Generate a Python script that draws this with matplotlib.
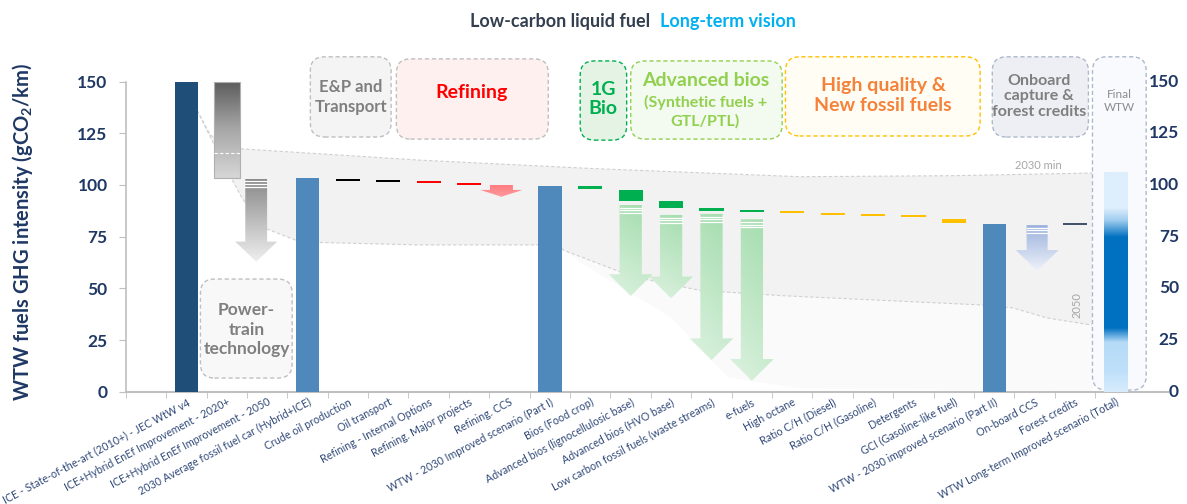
import numpy as np
import matplotlib
matplotlib.use("Agg")
import matplotlib.pyplot as plt
import matplotlib.transforms as mtransforms
from matplotlib.patches import Rectangle, Polygon, FancyBboxPatch
from matplotlib.colors import LinearSegmentedColormap

plt.rcParams["font.family"] = ["Lato", "DejaVu Sans"]
plt.rcParams["mathtext.fontset"] = "custom"
plt.rcParams["mathtext.rm"] = "Lato:bold"
plt.rcParams["mathtext.it"] = "Lato:bold"
plt.rcParams["mathtext.bf"] = "Lato:bold"

# --- data -------------------------------------------------------------
categories = [
    "ICE - State-of-the-art (2010+) - JEC WtW v4",
    "ICE+Hybrid EnEf Improvement - 2020+",
    "ICE+Hybrid EnEf Improvement - 2050",
    "2030 Average fossil fuel car (Hybrid+ICE)",
    "Crude oil production",
    "Oil transport",
    "Refining - Internal Options",
    "Refining. Major projects",
    "Refining. CCS",
    "WTW - 2030 Improved scenario (Part I)",
    "Bios (Food crop)",
    "Advanced bios (lignocellulosic base)",
    "Advanced bios (HVO base)",
    "Low carbon fossil fuels (waste streams)",
    "e-fuels",
    "High octane",
    "Ratio C/H (Diesel)",
    "Ratio C/H (Gasoline)",
    "Detergents",
    "GCI (Gasoline-like fuel)",
    "WTW - 2030 improved scenario (Part II)",
    "On-board CCS",
    "Forest credits",
    "WTW Long-term Improved scenario (Total)",
]

# full bars from zero
total_idx = [0, 3, 9, 20]
total_val = [150.0, 103.2, 99.7, 81.3]
total_kind = ["base", "sub", "sub", "sub"]

# floating steps of the waterfall
step_idx = [4, 5, 6, 7, 10, 11, 12, 13, 14, 15, 16, 17, 18, 19, 22]
step_top = [103.1, 102.3, 101.8, 100.8, 99.7, 97.6, 92.3, 88.7, 87.9, 87.4, 86.3, 86.2, 85.5, 83.4, 81.5]
step_bottom = [102.1, 101.5, 100.8, 100.0, 97.9, 92.3, 88.7, 87.6, 87.0, 86.4, 85.3, 84.8, 84.7, 81.4, 80.8]
step_kind = ["oil", "oil", "refining", "refining", "bio", "bio", "bio", "bio", "bio",
             "quality", "quality", "quality", "quality", "quality", "credits"]

# long-term reduction arrows
arrow_idx = [2, 8, 11, 12, 13, 14, 21]
arrow_top = [103.0, 100.0, 90.3, 85.5, 86.0, 83.4, 80.6]
arrow_tip = [62.9, 94.3, 46.3, 45.2, 15.3, 5.3, 58.5]
arrow_kind = ["power", "refining", "bio", "bio", "bio", "bio", "onboard"]

# 2020+ powertrain range box
hybrid_idx = 1
hybrid_top = 150.0
hybrid_bottom = 103.3
hybrid_mark = 115.3

# final long-term WTW range
final_idx = 23
final_val = 106.4

# 2030 min / 2050 envelope
band_upper_x = [0.27, 0.6, 1.34, 5.8, 10.0, 15.2, 19.0, 22.43]
band_upper_y = [136.0, 124.0, 117.5, 112.0, 108.0, 104.0, 104.5, 105.8]
band_lower_x = [0.27, 0.8, 1.34, 1.83, 2.82, 5.79, 9.26, 9.33, 11.06, 12.72, 14.7, 19.65, 20.47, 21.3, 22.43]
band_lower_y = [136.0, 115.0, 95.0, 80.0, 72.4, 71.0, 71.0, 68.5, 55.6, 49.0, 46.5, 42.0, 40.5, 35.7, 32.2]
shadow_x = [9.33, 9.8, 12.0, 13.4, 15.2, 22.43]
shadow_y = [68.5, 62.0, 36.0, 7.0, 1.5, 0.5]

y_ticks = [0, 25, 50, 75, 100, 125, 150]

# group boxes: (x0, x1, y0, y1)
groups = {
    "power": (0.35, 2.62, 6.6, 54.5),
    "ep": (3.07, 5.07, 123.2, 162.0),
    "refining": (5.2, 8.96, 122.2, 161.0),
    "1g": (9.75, 10.9, 121.7, 160.0),
    "adv": (11.0, 14.75, 122.2, 160.0),
    "quality": (14.83, 19.65, 123.7, 162.0),
    "onboard": (19.95, 22.33, 123.2, 162.0),
    "final": (22.43, 23.76, 0.8, 162.0),
}

# --- styles -----------------------------------------------------------
NAVY = "#1F3864"
BAR_COL = {"base": "#1F4E79", "sub": "#4F88BB"}
STEP_COL = {"oil": "#000000", "refining": "#FF0000", "bio": "#00B050",
            "quality": "#FFC000", "credits": "#44546A"}
ARROW_STYLE = {
    "power": dict(dx=-0.27, head=9.7, shaft=0.54, hw=1.04, c0="#8A8A8A", c1="#EFEFEF", stripes=True),
    "refining": dict(dx=-0.2, head=3.3, shaft=0.57, hw=1.04, c0="#FF7C80", c1="#FF9A9D", stripes=False),
    "bio": dict(dx=0.0, head=10.5, shaft=0.55, hw=1.08, c0="#A2DCAC", c1="#DDF2E0", stripes=True),
    "onboard": dict(dx=0.06, head=10.0, shaft=0.52, hw=1.06, c0="#9BB1DD", c1="#EEF2FA", stripes=True),
}
BOX_STYLE = {
    "power": dict(fc="#F8F8F8", ec="#BFBFBF"),
    "ep": dict(fc="#F4F4F4", ec="#BFBFBF"),
    "refining": dict(fc="#FFF0F0", ec="#BFBFBF"),
    "1g": dict(fc="#E4F3E4", ec="#00B050"),
    "adv": dict(fc="#F3FAEF", ec="#92D050"),
    "quality": dict(fc="#FFFDF4", ec="#FFC000"),
    "onboard": dict(fc="#EDEFF4", ec="#ADB9CA"),
    "final": dict(fc="#F8FAFD", ec="#ADB9CA"),
}

BAR_W = 0.58
X_MIN, X_MAX = -1.5, 24.3
Y_MIN, Y_MAX = 0, 165
ASPECT = (1042.3 / (X_MAX - X_MIN)) / (341.1 / (Y_MAX - Y_MIN))

fig = plt.figure(figsize=(11.87, 5.04), dpi=100)
ax = fig.add_axes([0.1059, 0.2228, 0.8781, 0.6768])


def gradient_patch(ax, verts, extent, arr, cmap, z):
    poly = Polygon(verts, closed=True, facecolor="none", edgecolor="none", zorder=z)
    ax.add_patch(poly)
    im = ax.imshow(arr, cmap=cmap, extent=extent, aspect="auto", origin="upper",
                   interpolation="bilinear", zorder=z, vmin=0, vmax=1)
    im.set_clip_path(poly)
    return im


def rbox(ax, x0, x1, y0, y1, fc, ec, z=1):
    p = FancyBboxPatch((x0, y0), x1 - x0, y1 - y0,
                       boxstyle="round,pad=0,rounding_size=0.35",
                       mutation_aspect=ASPECT, fc=fc, ec=ec, lw=1.0,
                       ls=(0, (3, 2)), zorder=z, clip_on=False)
    ax.add_patch(p)


# envelope band
band_poly = list(zip(band_upper_x, band_upper_y)) + list(zip(band_lower_x[::-1], band_lower_y[::-1]))
ax.add_patch(Polygon(band_poly, closed=True, fc="#F2F2F2", ec="none", zorder=0.5))
ax.plot(band_upper_x, band_upper_y, color="#D0D0D0", lw=0.8, ls=(0, (3, 2)), zorder=0.6)
ax.plot(band_lower_x, band_lower_y, color="#D0D0D0", lw=0.8, ls=(0, (3, 2)), zorder=0.6)
shadow_poly = list(zip(band_lower_x[7:], band_lower_y[7:])) + list(zip(shadow_x[::-1], shadow_y[::-1]))
ax.add_patch(Polygon(shadow_poly, closed=True, fc="#FAFAFA", ec="none", zorder=0.4))

# group boxes
for key, (x0, x1, y0, y1) in groups.items():
    rbox(ax, x0, x1, y0, y1, **BOX_STYLE[key])

# full bars
for i, v, k in zip(total_idx, total_val, total_kind):
    ax.add_patch(Rectangle((i - BAR_W / 2, 0), BAR_W, v, fc=BAR_COL[k], ec="none", zorder=3))

# steps
for i, t, b, k in zip(step_idx, step_top, step_bottom, step_kind):
    ax.add_patch(Rectangle((i - 0.3, b), 0.6, t - b, fc=STEP_COL[k], ec="none", zorder=3))

# 2020+ gradient box
gray = LinearSegmentedColormap.from_list("gray", ["#5C5C5C", "#A8A8A8", "#D6D6D6"])
hw = 0.64
verts = [(hybrid_idx - hw / 2, hybrid_bottom), (hybrid_idx + hw / 2, hybrid_bottom),
         (hybrid_idx + hw / 2, hybrid_top), (hybrid_idx - hw / 2, hybrid_top)]
gradient_patch(ax, verts, (hybrid_idx - hw / 2, hybrid_idx + hw / 2, hybrid_bottom, hybrid_top),
               np.linspace(0, 1, 200).reshape(-1, 1), gray, 3)
ax.add_patch(Rectangle((hybrid_idx - hw / 2, hybrid_bottom), hw, hybrid_top - hybrid_bottom,
                       fc="none", ec="#B0B0B0", lw=0.8, zorder=3.2))
ax.plot([hybrid_idx - hw / 2, hybrid_idx + hw / 2], [hybrid_mark, hybrid_mark],
        color="white", lw=0.8, ls=(0, (3, 2)), zorder=3.3)

# arrows
for i, top, tip, k in zip(arrow_idx, arrow_top, arrow_tip, arrow_kind):
    s = ARROW_STYLE[k]
    xc = i + s["dx"]
    sw, hwid = s["shaft"], s["hw"]
    neck = tip + s["head"]
    verts = [(xc - sw / 2, top), (xc + sw / 2, top), (xc + sw / 2, neck), (xc + hwid / 2, neck),
             (xc, tip), (xc - hwid / 2, neck), (xc - sw / 2, neck)]
    u = np.linspace(0, 1, 40)[None, :]
    v = np.linspace(0, 1, 200)[:, None]
    arr = np.clip(0.75 * v + 0.25 * (1 - u), 0, 1) if k == "bio" else np.repeat(v, 40, axis=1)
    cmap = LinearSegmentedColormap.from_list("a" + k, [s["c0"], s["c1"]])
    gradient_patch(ax, verts, (xc - hwid / 2, xc + hwid / 2, tip, top), arr, cmap, 3)
    if s["stripes"]:
        for d in (1.3, 2.6, 3.9):
            ax.plot([xc - sw / 2, xc + sw / 2], [top - d, top - d], color="white", lw=0.9, zorder=3.4)

# final long-term gradient bar
stops_v = [0, 10, 24, 31, 75, 83, 89, final_val]
stops_c = ["#D8ECFC", "#BFE0FA", "#B5DBF7", "#0070C0", "#0070C0", "#9CCBEE", "#DDEEFC", "#DDEEFC"]
rgb = np.array([matplotlib.colors.to_rgb(c) for c in stops_c])
yy = np.linspace(final_val, 0, 300)
img = np.stack([np.interp(yy, stops_v, rgb[:, j]) for j in range(3)], axis=-1)[:, None, :]
ax.imshow(img, extent=(final_idx - BAR_W / 2, final_idx + BAR_W / 2, 0, final_val),
          aspect="auto", origin="upper", interpolation="bilinear", zorder=3)

# group labels
GRAY_T = "#7F7F7F"
ax.text(1.49, 30, "Power-\ntrain\ntechnology", color=GRAY_T, fontsize=12.5, fontweight="bold",
        ha="center", va="center", linespacing=1.25, zorder=4)
ax.text(4.07, 142.6, "E&P and\nTransport", color=GRAY_T, fontsize=12, fontweight="bold",
        ha="center", va="center", linespacing=1.3, zorder=4)
ax.text(7.05, 144.5, "Refining", color="#FF0000", fontsize=14, fontweight="bold",
        ha="center", va="center", zorder=4)
ax.text(10.32, 141.5, "1G\nBio", color="#00B050", fontsize=14, fontweight="bold",
        ha="center", va="center", linespacing=1.15, zorder=4)
ax.text(12.85, 150.5, "Advanced bios", color="#92D050", fontsize=14, fontweight="bold",
        ha="center", va="center", zorder=4)
ax.text(12.85, 135.5, "(Synthetic fuels +\nGTL/PTL)", color="#92D050", fontsize=11.5,
        fontweight="bold", ha="center", va="center", linespacing=1.3, zorder=4)
ax.text(17.25, 143.3, "High quality &\nNew fossil fuels", color="#F4823A", fontsize=14,
        fontweight="bold", ha="center", va="center", linespacing=1.25, zorder=4)
ax.text(21.1, 142.8, "Onboard\ncapture &\nforest credits", color=GRAY_T, fontsize=11.5,
        fontweight="bold", ha="center", va="center", linespacing=1.1, zorder=4)
ax.text(23.1, 140.5, "Final\nWTW", color="#8C8C8C", fontsize=8.5, ha="center", va="center",
        linespacing=1.2, zorder=4)
ax.text(21.1, 109.5, "2030 min", color="#A6A6A6", fontsize=8, ha="center", va="center", zorder=4)
ax.text(22.05, 42, "2050", color="#A6A6A6", fontsize=8, rotation=90, ha="center", va="center", zorder=4)

# axes
ax.set_xlim(X_MIN, X_MAX)
ax.set_ylim(Y_MIN, Y_MAX)
for sp in ("top", "right"):
    ax.spines[sp].set_visible(False)
ax.spines["left"].set_bounds(0, 150)
ax.spines["left"].set_color("#BFBFBF")
ax.spines["bottom"].set_color("#BFBFBF")
ax.spines["left"].set_linewidth(1.2)
ax.spines["bottom"].set_linewidth(1.5)

ax.set_yticks(y_ticks)
ax.set_yticklabels([str(t) for t in y_ticks], fontsize=12.5, fontweight="bold", color=NAVY)
ax.tick_params(axis="y", length=5, color="#BFBFBF", pad=8)

ax.set_xticks(range(len(categories)))
ax.set_xticklabels(categories, rotation=28, ha="right", rotation_mode="anchor",
                   fontsize=7.7, color="#2F4878")
ax.set_xticks(np.arange(-1.5, 23, 1.0), minor=True)
ax.tick_params(axis="x", which="major", length=0, pad=3.5)
ax.tick_params(axis="x", which="minor", length=4, color="#BFBFBF")

trans = mtransforms.blended_transform_factory(ax.transAxes, ax.transData)
for t in y_ticks:
    ax.text(1.0105, t, str(t), transform=trans, ha="right", va="center",
            fontsize=12.5, fontweight="bold", color=NAVY)

ax.set_ylabel("WTW fuels GHG intensity (gCO$_2$/km)", fontsize=14.5, fontweight="bold", color=NAVY)
ax.yaxis.set_label_coords(-0.087, 0.468)

fig.text(650 / 1187, 1 - 22 / 504, "Low-carbon liquid fuel", ha="right", va="center",
         fontsize=13, fontweight="bold", color="#333F4F")
fig.text(660 / 1187, 1 - 22 / 504, "Long-term vision", ha="left", va="center",
         fontsize=13, fontweight="bold", color="#00B0F0")

fig.savefig("out.png", dpi=100)
